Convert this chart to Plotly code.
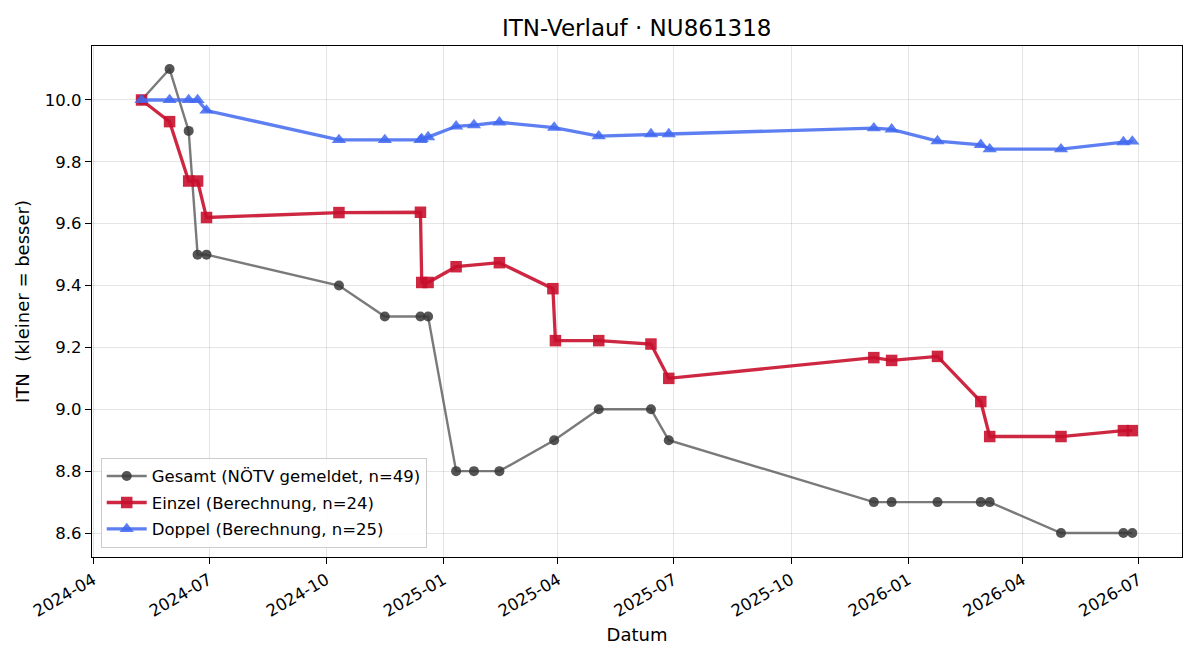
import plotly.graph_objects as go

# Gesamt (NÖTV gemeldet)
ges_dates = ["2024-05-09", "2024-05-31", "2024-06-15", "2024-06-22", "2024-06-29",
             "2024-10-11", "2024-11-16", "2024-12-14", "2024-12-20", "2025-01-11",
             "2025-01-25", "2025-02-14", "2025-03-29", "2025-05-03", "2025-06-13",
             "2025-06-27", "2025-12-05", "2025-12-19", "2026-01-24", "2026-02-27",
             "2026-03-06", "2026-05-01", "2026-06-19", "2026-06-26"]
ges_vals = [10.0, 10.1, 9.9, 9.5, 9.5,
            9.4, 9.3, 9.3, 9.3, 8.8,
            8.8, 8.8, 8.9, 9.0, 9.0,
            8.9, 8.7, 8.7, 8.7, 8.7,
            8.7, 8.6, 8.6, 8.6]

# Einzel (Berechnung)
ein_dates = ["2024-05-09", "2024-05-31", "2024-06-15", "2024-06-22", "2024-06-29",
             "2024-10-11", "2024-12-14", "2024-12-15", "2024-12-20", "2025-01-11",
             "2025-02-14", "2025-03-28", "2025-03-30", "2025-05-03", "2025-06-13",
             "2025-06-27", "2025-12-05", "2025-12-19", "2026-01-24", "2026-02-27",
             "2026-03-06", "2026-05-01", "2026-06-19", "2026-06-26"]
ein_vals = [10.0, 9.930, 9.738, 9.738, 9.620,
            9.636, 9.637, 9.410, 9.410, 9.461,
            9.474, 9.390, 9.222, 9.222, 9.211,
            9.100, 9.167, 9.158, 9.171, 9.025,
            8.912, 8.912, 8.931, 8.931]

# Doppel (Berechnung)
dop_dates = ["2024-05-09", "2024-05-31", "2024-06-15", "2024-06-22", "2024-06-29",
             "2024-10-11", "2024-11-16", "2024-12-14", "2024-12-15", "2024-12-20",
             "2025-01-11", "2025-01-25", "2025-02-14", "2025-03-29", "2025-05-03",
             "2025-06-13", "2025-06-27", "2025-12-05", "2025-12-19", "2026-01-24",
             "2026-02-27", "2026-03-06", "2026-05-01", "2026-06-19", "2026-06-26"]
dop_vals = [10.0, 10.0, 10.0, 10.0, 9.966,
            9.871, 9.871, 9.871, 9.874, 9.880,
            9.915, 9.919, 9.928, 9.911, 9.883,
            9.890, 9.890, 9.909, 9.905, 9.867,
            9.855, 9.841, 9.841, 9.864, 9.866]

FONT = "DejaVu Sans"

fig = go.Figure()
fig.add_trace(go.Scatter(
    x=ges_dates, y=ges_vals, mode="lines+markers",
    name="Gesamt (NÖTV gemeldet, n=49)", legendgroup="g",
    line=dict(color="rgba(70,70,70,0.72)", width=2.4),
    marker=dict(symbol="circle", size=10, color="rgba(55,55,55,0.85)",
                line=dict(width=0)),
))
fig.add_trace(go.Scatter(
    x=ein_dates, y=ein_vals, mode="lines+markers",
    name="Einzel (Berechnung, n=24)", legendgroup="e",
    line=dict(color="rgba(200,16,46,0.9)", width=3.3),
    marker=dict(symbol="square", size=11.5, color="rgba(200,16,46,0.9)",
                line=dict(width=0)),
))
fig.add_trace(go.Scatter(
    x=dop_dates, y=dop_vals, mode="lines+markers",
    name="Doppel (Berechnung, n=25)", legendgroup="d",
    line=dict(color="rgba(65,105,240,0.85)", width=3.3),
    marker=dict(symbol="triangle-up", size=12.5, color="rgba(65,105,240,0.85)",
                line=dict(width=0)),
))

fig.update_layout(
    width=1200, height=660,
    margin=dict(l=92, r=18, t=46, b=103),
    paper_bgcolor="white", plot_bgcolor="white",
    font=dict(family=FONT, size=16.5, color="black"),
    title=dict(text="ITN-Verlauf · NU861318", x=0.5306, xanchor="center",
               y=1 - 28 / 660, yanchor="middle", yref="container",
               font=dict(family=FONT, size=23, color="black")),
    showlegend=True,
    legend=dict(x=0.008, y=0.018, xanchor="left", yanchor="bottom",
                bgcolor="rgba(255,255,255,0.85)", bordercolor="#cccccc",
                borderwidth=1, font=dict(family=FONT, size=16.5, color="black"),
                itemwidth=40, tracegroupgap=2, traceorder="grouped"),
)

fig.update_xaxes(
    type="date",
    range=["2024-03-31 02:00", "2026-08-04"],
    tick0="2024-04-01", dtick="M3", tickformat="%Y-%m",
    tickangle=-30,
    ticks="outside", ticklen=6, tickwidth=1.2, tickcolor="black",
    showline=True, linecolor="black", linewidth=1.3, mirror=True,
    showgrid=True, gridcolor="rgba(0,0,0,0.1)", gridwidth=1,
    zeroline=False,
    tickfont=dict(family=FONT, size=16.5, color="black"),
    title=dict(text="Datum", font=dict(family=FONT, size=18, color="black"),
               standoff=8),
)
fig.update_yaxes(
    range=[8.5225, 10.1745],
    tick0=8.6, dtick=0.2, tickformat=".1f",
    ticks="outside", ticklen=6, tickwidth=1.2, tickcolor="black",
    showline=True, linecolor="black", linewidth=1.3, mirror=True,
    showgrid=True, gridcolor="rgba(0,0,0,0.1)", gridwidth=1,
    zeroline=False,
    tickfont=dict(family=FONT, size=16.5, color="black"),
    title=dict(text="ITN  (kleiner = besser)",
               font=dict(family=FONT, size=18, color="black"), standoff=10),
)

fig.write_html("out.html")
